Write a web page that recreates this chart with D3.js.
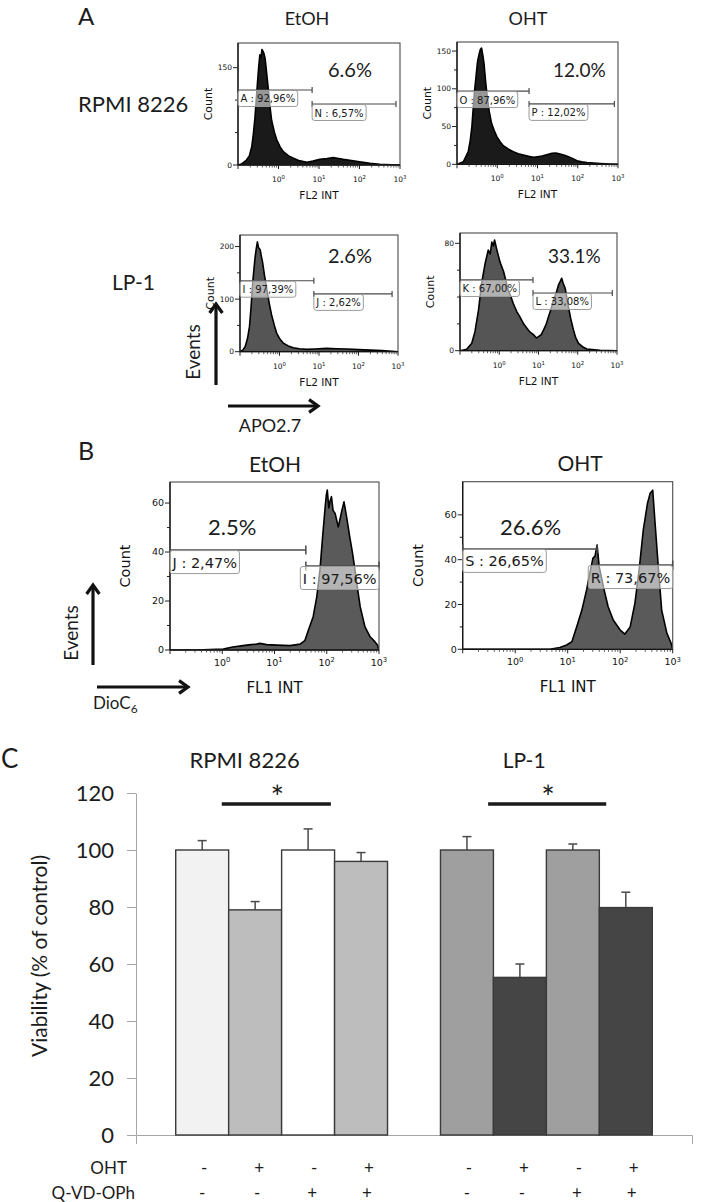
<!DOCTYPE html>
<html><head><meta charset="utf-8">
<script src="https://cdn.jsdelivr.net/npm/d3@7"></script>
<style>body{margin:0;background:#fff}svg{display:block}</style>
</head><body>
<svg id="fig" width="714" height="1202"></svg>
<script>
// ---------- DATA ----------
// Flow cytometry histogram outlines: [log10(fluorescence), count]
const histA1 = [[-1,0],[-0.9,2],[-0.79,7.7],[-0.72,14],[-0.66,28],[-0.62,48],[-0.58,74],[-0.55,100],[-0.52,126],[-0.49,150],[-0.46,170],[-0.43,165],[-0.41,178],[-0.39,176],[-0.36,172],[-0.33,164],[-0.29,140],[-0.25,116],[-0.21,90],[-0.17,69],[-0.1,50],[-0.04,38.5],[0.04,28],[0.12,20.5],[0.25,14],[0.37,10.3],[0.5,7],[0.7,4.1],[0.85,6],[1.02,8.7],[1.2,10],[1.35,11.3],[1.45,10.5],[1.6,8.7],[1.8,7],[2.0,5],[2.26,2.6],[2.5,1],[2.8,0.5],[3,0]];
const histA2 = [[-1,0],[-0.84,3.5],[-0.72,16.8],[-0.67,32],[-0.63,50],[-0.57,94],[-0.53,115],[-0.49,136],[-0.45,146],[-0.42,152],[-0.39,154],[-0.36,145],[-0.33,134],[-0.29,110],[-0.25,90],[-0.2,70],[-0.14,54],[-0.07,44],[-0.01,36.6],[0.07,30],[0.15,24.7],[0.28,20],[0.4,16.7],[0.52,14],[0.65,12.3],[0.78,10.5],[0.9,9.2],[1.0,10],[1.11,11],[1.25,13],[1.36,14.6],[1.46,14.8],[1.56,13.6],[1.67,12],[1.77,10],[1.88,7.5],[1.98,4.8],[2.1,3.2],[2.23,2.2],[2.56,1],[2.8,0.4],[3,0]];
const histA3 = [[-1,0],[-0.93,3],[-0.87,9.5],[-0.81,25],[-0.76,47.6],[-0.72,85],[-0.68,130],[-0.65,155],[-0.62,178],[-0.59,195],[-0.56,209],[-0.53,198],[-0.49,194],[-0.46,182],[-0.43,171],[-0.38,145],[-0.32,118],[-0.26,92],[-0.2,70],[-0.13,50],[-0.07,35],[0.01,24],[0.1,16],[0.22,11],[0.35,7.6],[0.5,5.5],[0.69,4.4],[0.9,5],[1.19,6.3],[1.45,5.5],[1.7,5],[2.0,4],[2.3,3],[2.6,2],[2.85,1],[3,0]];
const histA4 = [[-1,0],[-0.83,1],[-0.7,5.5],[-0.62,14],[-0.53,30],[-0.45,50],[-0.36,65],[-0.28,75],[-0.23,72],[-0.19,81],[-0.15,78],[-0.12,82.5],[-0.06,75],[0.02,66],[0.11,59],[0.17,52],[0.23,45],[0.3,40],[0.36,35],[0.45,29],[0.53,25],[0.62,20],[0.7,17],[0.78,14],[0.87,12],[0.95,9.5],[1.0,10.5],[1.07,12],[1.13,15.5],[1.2,20],[1.25,25],[1.32,31],[1.38,38],[1.45,43],[1.51,49],[1.56,52],[1.59,54],[1.63,50],[1.68,46.5],[1.76,33],[1.82,24],[1.89,15.5],[1.95,9.5],[2.02,5.5],[2.12,3],[2.23,1.3],[2.57,0.3],[3,0]];
const histB1 = [[-1,0],[-0.5,0],[0.02,0.4],[0.2,1.2],[0.4,1.8],[0.55,2.2],[0.66,2.4],[0.72,2.7],[0.85,2.2],[1.04,2.0],[1.3,1.8],[1.49,2.4],[1.58,3.8],[1.65,8.2],[1.74,13.6],[1.81,21.8],[1.87,32.7],[1.92,46],[1.97,58.5],[1.99,63],[2.01,65.3],[2.04,58],[2.06,60.5],[2.09,62.6],[2.12,57],[2.16,55.8],[2.22,50.3],[2.26,54],[2.29,57],[2.33,60.5],[2.38,54.4],[2.44,46.2],[2.49,40],[2.54,32.7],[2.59,25],[2.64,17.7],[2.73,9.5],[2.83,5.4],[2.92,3.4],[2.97,2],[3,0]];
const histB2 = [[-1,0],[0.66,0],[0.85,0.8],[0.98,1.9],[1.08,3.4],[1.17,10],[1.27,17.5],[1.36,26.5],[1.42,33.9],[1.48,40.6],[1.52,41.6],[1.56,46.5],[1.6,36.9],[1.68,27.9],[1.77,19],[1.87,13],[2.0,8.6],[2.09,6.8],[2.19,10],[2.28,20.5],[2.36,35.4],[2.44,53.3],[2.52,65.2],[2.57,69.6],[2.62,71],[2.66,57.7],[2.73,35.4],[2.79,17.5],[2.89,7.1],[2.97,2.7],[3,0]];

// Gates: [label, from log10, to log10, count level]
const gatesA1 = [["A : 92,96%",-1,0.83,115.6],["N : 6,57%",0.83,2.9,94]];
const gatesA2 = [["O : 87,96%",-1,0.79,97],["P : 12,02%",0.79,2.91,80]];
const gatesA3 = [["I : 97,39%",-1,0.87,135],["J : 2,62%",0.87,2.85,110]];
const gatesA4 = [["K : 67,00%",-1,0.86,52.7],["L : 33,08%",0.86,2.88,43]];
const gatesB1 = [["J : 2,47%",-1,1.6,40.8],["I : 97,56%",1.6,3,34.3]];
const gatesB2 = [["S : 26,65%",-1,1.56,44.8],["R : 73,67%",1.56,3,37.6]];

const pctLabels = ["6.6%","12.0%","2.6%","33.1%","2.5%","26.6%"];
const treatTitles = ["EtOH","OHT"];
const cellLines = ["RPMI 8226","LP-1"];

// Bar chart (panel C)
const barKeys = ["r0","r1","r2","r3","gap","l0","l1","l2","l3"];
const rpmiValues = [100,79,100,96];
const rpmiErrors = [3.3,2.9,7.4,3.1];
const lp1Values = [100,55.3,100,79.8];
const lp1Errors = [4.7,4.7,2.1,5.4];
const yTicks = [0,20,40,60,80,100,120];
const ohtSigns = ["-","+","-","+"];
const qvdSigns = ["-","-","+","+"];
const rowLabels = ["OHT","Q-VD-OPh"];

// ---------- DRAW ----------
const svg = d3.select("#fig");
const LATO = "Lato, 'Open Sans', sans-serif";
const DJ = "'DejaVu Sans', sans-serif";
const INK = "#1c1c1c";

function text(x,y,s,size,opt={}){
  const t = svg.append("text").attr("x",x).attr("y",y).text(s)
    .attr("font-family",opt.family||LATO).attr("font-size",size)
    .attr("fill",opt.fill||INK).attr("text-anchor",opt.anchor||"start");
  if(opt.rotate) t.attr("transform",`rotate(-90,${x},${y})`);
  return t;
}
function arrow(x1,y1,x2,y2){
  const a = Math.atan2(y2-y1,x2-x1), L=11, s=0.62;
  svg.append("line").attr("x1",x1).attr("y1",y1).attr("x2",x2-Math.cos(a)*1.5).attr("y2",y2-Math.sin(a)*1.5)
    .attr("stroke","#111").attr("stroke-width",3.2);
  const p1=[x2-L*Math.cos(a-s),y2-L*Math.sin(a-s)], p2=[x2-L*Math.cos(a+s),y2-L*Math.sin(a+s)];
  svg.append("path").attr("d",`M${p1}L${x2},${y2}L${p2}`).attr("fill","none")
    .attr("stroke","#111").attr("stroke-width",3.2).attr("stroke-linejoin","miter");
}

const small = {tick:7.5,xlab:10.5,count:11,gate:10,boxH:16,tOff:12,cap:3,lab:17,countDx:27,flDy:34,gw:1.2};
const big   = {tick:9.5,xlab:15,count:14.5,gate:14.5,boxH:23,tOff:17,cap:4.5,lab:16,countDx:41,flDy:43,gw:1.5};

const panels = [
 {id:"a1",data:histA1,gates:gatesA1,left:238,right:400,top:43,bottom:165,ymax:188,major:[0,150],minor:[50,100],fill:"#1a1a1a",st:small,title:treatTitles[0],tx:307,ty:25,tsize:18,pct:pctLabels[0],px:328,py:77,psize:20,xl:"FL2 INT"},
 {id:"a2",data:histA2,gates:gatesA2,left:457,right:618,top:42,bottom:164.3,ymax:162,major:[0,50,100,150],minor:[25,75,125],fill:"#1a1a1a",st:small,title:treatTitles[1],tx:528,ty:25,tsize:18,pct:pctLabels[1],px:553,py:77,psize:19,xl:"FL2 INT"},
 {id:"a3",data:histA3,gates:gatesA3,left:240,right:398,top:235,bottom:351.7,ymax:222,major:[0,100,200],minor:[50,150],fill:"#555555",st:small,pct:pctLabels[2],px:328,py:263,psize:20,xl:"FL2 INT"},
 {id:"a4",data:histA4,gates:gatesA4,left:460,right:617,top:233,bottom:350.7,ymax:87.7,major:[0,80],minor:[20,40,60],fill:"#555555",st:small,pct:pctLabels[3],px:548,py:263,psize:19,xl:"FL2 INT"},
 {id:"b1",data:histB1,gates:gatesB1,left:170,right:379,top:482,bottom:650,ymax:68.6,major:[0,20,40,60],minor:[10,30,50],fill:"#5a5a5a",st:big,title:treatTitles[0],tx:275,ty:472,tsize:21,pct:pctLabels[4],px:208,py:535,psize:22,xl:"FL1 INT"},
 {id:"b2",data:histB2,gates:gatesB2,left:462.7,right:672.7,top:481.7,bottom:649.3,ymax:74.8,major:[0,20,40,60],minor:[10,30,50],fill:"#5a5a5a",st:big,title:treatTitles[1],tx:580,ty:471,tsize:21,pct:pctLabels[5],px:500,py:535,psize:22,xl:"FL1 INT"}
];

const defs = svg.append("defs");
panels.forEach(p=>{
  const S = p.st;
  const g = svg.append("g");
  const xs = d3.scaleLog().domain([0.1,1000]).range([p.left,p.right]);
  const ys = d3.scaleLinear().domain([0,p.ymax]).range([p.bottom,p.top]);
  defs.append("clipPath").attr("id","c"+p.id).append("rect")
    .attr("x",p.left).attr("y",p.top).attr("width",p.right-p.left).attr("height",p.bottom-p.top);
  const area = d3.area().x(d=>xs(10**d[0])).y0(ys(0)).y1(d=>ys(d[1]));
  const line = d3.line().x(d=>xs(10**d[0])).y(d=>ys(d[1]));
  g.append("path").datum(p.data).attr("d",area).attr("fill",p.fill).attr("clip-path",`url(#c${p.id})`);
  g.append("path").datum(p.data).attr("d",line).attr("fill","none").attr("stroke","#000")
    .attr("stroke-width",1.6).attr("stroke-linejoin","round").attr("clip-path",`url(#c${p.id})`);
  // frame
  g.append("rect").attr("x",p.left).attr("y",p.top).attr("width",p.right-p.left).attr("height",p.bottom-p.top)
    .attr("fill","none").attr("stroke","#4a4a4a").attr("stroke-width",1.1);
  g.append("line").attr("x1",p.left).attr("x2",p.left).attr("y1",p.top).attr("y2",p.bottom).attr("stroke","#111").attr("stroke-width",1.3);
  g.append("line").attr("x1",p.left).attr("x2",p.right).attr("y1",p.bottom).attr("y2",p.bottom).attr("stroke","#111").attr("stroke-width",1.3);
  // y ticks
  p.major.forEach(v=>{
    g.append("line").attr("x1",p.left-5).attr("x2",p.left).attr("y1",ys(v)).attr("y2",ys(v)).attr("stroke","#222").attr("stroke-width",1);
    g.append("text").attr("x",p.left-6).attr("y",ys(v)).attr("dy","0.35em").attr("text-anchor","end")
      .attr("font-family",DJ).attr("font-size",S.tick).attr("fill","#111").text(v);
  });
  p.minor.forEach(v=>{
    g.append("line").attr("x1",p.left-3).attr("x2",p.left).attr("y1",ys(v)).attr("y2",ys(v)).attr("stroke","#222").attr("stroke-width",1);
  });
  // x ticks (log)
  [0.1,1,10,100,1000].forEach((d,i)=>{
    g.append("line").attr("x1",xs(d)).attr("x2",xs(d)).attr("y1",p.bottom).attr("y2",p.bottom+4).attr("stroke","#222");
    if(i<4) for(let k=2;k<10;k++){
      const xv = xs(d*k);
      g.append("line").attr("x1",xv).attr("x2",xv).attr("y1",p.bottom).attr("y2",p.bottom+2.5).attr("stroke","#333").attr("stroke-width",0.8);
    }
    if(i>0){
      const t = g.append("text").attr("x",xs(d)).attr("y",p.bottom+S.lab).attr("text-anchor","middle")
        .attr("font-family",DJ).attr("font-size",S.tick).attr("fill","#111");
      t.append("tspan").text("10");
      t.append("tspan").attr("dy",-S.tick*0.4).attr("font-size",S.tick*0.72).text(String(i-1));
    }
  });
  // gates
  p.gates.forEach(gt=>{
    const x1=xs(10**gt[1]), x2=xs(10**gt[2]), yy=ys(gt[3]);
    g.append("line").attr("x1",x1).attr("x2",x2).attr("y1",yy).attr("y2",yy).attr("stroke","#4a4a4a").attr("stroke-width",S.gw);
    [x1,x2].forEach(xx=>g.append("line").attr("x1",xx).attr("x2",xx).attr("y1",yy-S.cap).attr("y2",yy+S.cap).attr("stroke","#4a4a4a").attr("stroke-width",S.gw));
    const t = g.append("text").attr("font-family",DJ).attr("font-size",S.gate).attr("fill","#1a1a1a").text(gt[0]);
    const w = t.node().getComputedTextLength();
    const bw = w+5;
    let bx = x1;
    if(bx+bw>p.right) bx = p.right-bw;
    const by = yy+0.5;
    t.attr("x",bx+2.5).attr("y",by+S.tOff);
    g.insert("rect",()=>t.node()).attr("x",bx).attr("y",by).attr("width",bw).attr("height",S.boxH)
      .attr("rx",2.5).attr("fill","#fff").attr("fill-opacity",0.55).attr("stroke","#9a9a9a").attr("stroke-width",1);
  });
  // labels
  const cx = (p.left+p.right)/2, cy=(p.top+p.bottom)/2;
  text(p.left-S.countDx+S.count*0.1, cy, "Count", S.count, {family:DJ,anchor:"middle",rotate:true,fill:"#111"});
  text(cx, p.bottom+S.flDy, p.xl, S.xlab, {family:DJ,anchor:"middle",fill:"#111"});
  if(p.title) text(p.tx,p.ty,p.title,p.tsize,{anchor:"middle"});
  text(p.px,p.py,p.pct,p.psize);
});

// Panel letters and side labels
text(78,25,"A",24);
text(78,460,"B",25);
text(1,768,"C",26);
text(78,112,cellLines[0],22);
text(112,290,cellLines[1],21);
text(200,352,"Events",19,{anchor:"middle",rotate:true});
text(78,633,"Events",19,{anchor:"middle",rotate:true});
arrow(216,385,216,304);
arrow(228,406,318,406);
arrow(93,665,93,585);
arrow(97,687,188,687);
text(270,432,"APO2.7",18,{anchor:"middle"});
const dio = text(93,709,"DioC",17);
dio.append("tspan").attr("dy",4).attr("font-size",12).text("6");

// ---------- Panel C bar chart ----------
const xb = d3.scaleBand().domain(barKeys).range([136,692]).paddingInner(0).paddingOuter(0.75);
const yb = d3.scaleLinear().domain([0,120]).range([1135,793]);
const bw = xb.bandwidth();
const AX = "#a6a6a6";

const yAx = svg.append("g").attr("transform","translate(136,0)")
  .call(d3.axisLeft(yb).tickValues(yTicks).tickSize(9).tickPadding(13).tickSizeOuter(0));
yAx.select(".domain").attr("stroke",AX);
yAx.selectAll(".tick line").attr("stroke",AX);
yAx.selectAll("text").attr("font-family",LATO).attr("font-size",22).attr("fill",INK);

const xAx = svg.append("g").attr("transform","translate(0,1135)")
  .call(d3.axisBottom(xb).tickValues([]).tickSizeOuter(9));
xAx.select(".domain").attr("stroke",AX);

const bars = [];
rpmiValues.forEach((v,i)=>bars.push({k:"r"+i,v,e:rpmiErrors[i],c:["#f2f2f2","#bdbdbd","#ffffff","#bdbdbd"][i],j:i}));
lp1Values.forEach((v,i)=>bars.push({k:"l"+i,v,e:lp1Errors[i],c:["#9f9f9f","#454545","#9f9f9f","#454545"][i],j:i}));

bars.forEach(b=>{
  const cx = xb(b.k)+bw/2;
  svg.append("line").attr("x1",cx).attr("x2",cx).attr("y1",yb(b.v)).attr("y2",yb(b.v+b.e)).attr("stroke","#4a4a4a").attr("stroke-width",1.5);
  svg.append("line").attr("x1",cx-4.5).attr("x2",cx+4.5).attr("y1",yb(b.v+b.e)).attr("y2",yb(b.v+b.e)).attr("stroke","#4a4a4a").attr("stroke-width",1.5);
});
svg.selectAll("rect.bar").data(bars).join("rect").attr("class","bar")
  .attr("x",d=>xb(d.k)).attr("y",d=>yb(d.v)).attr("width",bw).attr("height",d=>yb(0)-yb(d.v))
  .attr("fill",d=>d.c).attr("stroke","#3a3a3a").attr("stroke-width",1.4);

// group titles
text(xb("r0")+1.3*bw,768,cellLines[0],22,{anchor:"middle"});
text(xb("l1")+0.58*bw,768,cellLines[1],21,{anchor:"middle"});

// significance
[[xb("r0")+0.87*bw, xb("r2")+0.93*bw],[xb("l0")+0.9*bw, xb("l3")+0.13*bw]].forEach(([a,b])=>{
  svg.append("line").attr("x1",a).attr("x2",b).attr("y1",804).attr("y2",804).attr("stroke","#1a1a1a").attr("stroke-width",3.5);
  text((a+b)/2+1,809,"*",32,{anchor:"middle"});
});

// treatment rows
text(127,1174,rowLabels[0],17,{anchor:"end"});
text(135,1199,rowLabels[1],17,{anchor:"end"});
bars.forEach((b,i)=>{
  const cx = xb(b.k)+bw/2+2+2*b.j;
  text(cx,1174,ohtSigns[b.j],17,{anchor:"middle"});
  text(cx-2,1199,qvdSigns[b.j],17,{anchor:"middle"});
});

// y title
text(47,956,"Viability (% of control)",21,{anchor:"middle",rotate:true});
</script>
</body></html>
